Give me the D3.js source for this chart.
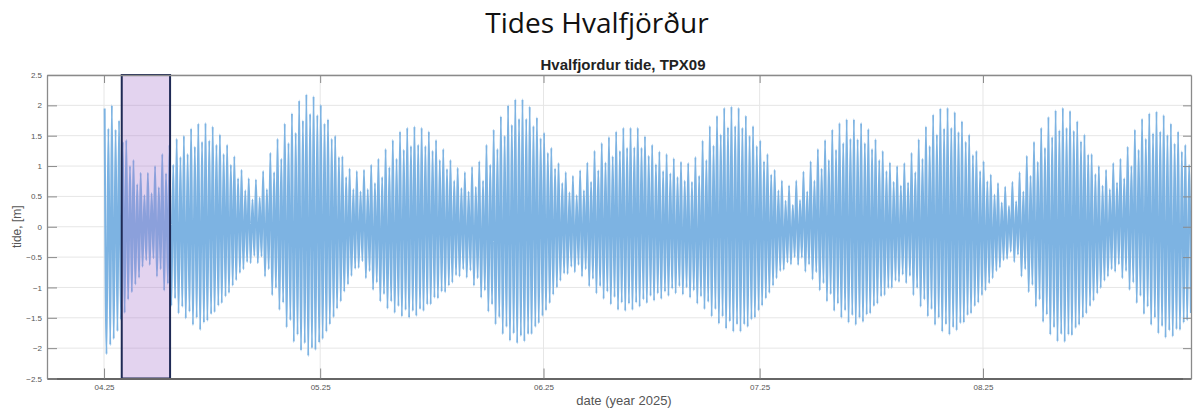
<!DOCTYPE html>
<html>
<head>
<meta charset="utf-8">
<script src="https://cdn.jsdelivr.net/npm/d3@7"></script>
<style>
  html, body { margin: 0; padding: 0; background: #fff; }
  svg { display: block; }
</style>
</head>
<body>
<svg id="chart" width="1194" height="410"></svg>
<script>
// ---------- DATA ----------
const pageTitle = "Tides Hvalfjörður";
const chartTitle = "Hvalfjordur tide, TPX09";
const xLabel = "date (year 2025)";
const yLabel = "tide, [m]";

const seriesStart = "2025-04-25T02:00:00";   // first day of the record
const axisStart = "2025-04-17T02:00:00";
const axisEnd = "2025-09-22T21:00:00";
const xTickDates = ["2025-04-25", "2025-05-25", "2025-06-25", "2025-07-25", "2025-08-25"];
const yTicks = [2.5, 2, 1.5, 1, 0.5, 0, -0.5, -1, -1.5, -2, -2.5];
const highlightRange = ["2025-04-27T11:00:00", "2025-05-04T04:00:00"];

// daily higher high water [m]
const highA = [1.95,2.00,1.75,1.43,1.10,0.89,0.89,1.00,1.20,1.35,
 1.45,1.50,1.62,1.70,1.71,1.65,1.52,1.35,1.16,0.94,
 0.80,0.78,0.92,1.22,1.45,1.70,1.87,2.08,2.18,2.15,
 2.01,1.77,1.50,1.16,0.96,0.92,0.94,1.02,1.12,1.28,
 1.43,1.57,1.63,1.65,1.63,1.57,1.43,1.28,1.10,0.97,
 0.90,0.99,1.08,1.35,1.60,1.82,2.00,2.10,2.10,1.98,
 1.80,1.55,1.30,1.05,0.90,0.84,0.93,1.06,1.25,1.38,
 1.48,1.57,1.63,1.63,1.63,1.49,1.35,1.24,1.20,1.13,
 1.07,1.05,1.15,1.42,1.66,1.83,1.96,1.98,1.96,1.83,
 1.66,1.42,1.20,0.94,0.76,0.68,0.76,0.91,1.08,1.28,
 1.43,1.60,1.71,1.77,1.77,1.71,1.61,1.44,1.25,1.06,
 1.00,1.05,1.22,1.44,1.65,1.85,1.95,1.96,1.89,1.74,
 1.52,1.25,1.08,0.86,0.72,0.66,0.74,0.90,1.17,1.40,
 1.63,1.81,1.92,1.96,1.91,1.74,1.52,1.20,1.00,0.94,
 1.05,1.12,1.32,1.60,1.78,1.87,1.90,1.84,1.70,1.57,
 1.35];

// daily lower high water [m]
const highB = [1.62,1.60,1.40,1.00,0.70,0.52,0.55,0.65,0.88,1.02,
 1.15,1.20,1.32,1.40,1.42,1.35,1.20,1.02,0.80,0.60,
 0.45,0.48,0.62,0.90,1.12,1.38,1.55,1.75,1.86,1.84,
 1.70,1.45,1.15,0.82,0.62,0.58,0.62,0.72,0.82,0.98,
 1.12,1.27,1.33,1.35,1.33,1.25,1.10,0.95,0.76,0.64,
 0.58,0.66,0.76,1.02,1.28,1.50,1.68,1.78,1.78,1.66,
 1.46,1.22,0.96,0.72,0.57,0.52,0.60,0.74,0.93,1.06,
 1.16,1.25,1.30,1.31,1.30,1.17,1.03,0.92,0.88,0.82,
 0.76,0.74,0.84,1.10,1.34,1.52,1.64,1.66,1.63,1.50,
 1.33,1.08,0.86,0.60,0.43,0.36,0.44,0.58,0.76,0.96,
 1.10,1.27,1.38,1.45,1.44,1.38,1.28,1.10,0.92,0.74,
 0.68,0.73,0.90,1.12,1.33,1.52,1.62,1.63,1.56,1.40,
 1.18,0.92,0.75,0.53,0.40,0.34,0.42,0.58,0.84,1.07,
 1.30,1.48,1.59,1.63,1.58,1.41,1.19,0.87,0.68,0.62,
 0.73,0.80,1.00,1.27,1.45,1.54,1.57,1.51,1.37,1.24,
 1.02];

// daily lower low water [m]
const lowA = [-2.10,-1.85,-1.53,-1.20,-0.95,-0.66,-0.63,-0.82,-1.05,-1.30,
 -1.43,-1.51,-1.62,-1.70,-1.55,-1.41,-1.26,-1.09,-0.88,-0.70,
 -0.60,-0.60,-0.82,-1.13,-1.37,-1.66,-1.90,-2.04,-2.13,-2.03,
 -1.85,-1.61,-1.35,-1.07,-0.81,-0.68,-0.85,-1.04,-1.23,-1.35,
 -1.42,-1.48,-1.50,-1.47,-1.39,-1.28,-1.18,-1.08,-0.92,-0.82,
 -0.84,-0.97,-1.17,-1.40,-1.61,-1.77,-1.88,-1.92,-1.89,-1.77,
 -1.59,-1.38,-1.12,-0.89,-0.78,-0.75,-0.82,-0.98,-1.10,-1.19,
 -1.28,-1.37,-1.39,-1.37,-1.32,-1.26,-1.22,-1.19,-1.14,-1.10,
 -1.12,-1.17,-1.27,-1.36,-1.48,-1.60,-1.68,-1.73,-1.73,-1.65,
 -1.50,-1.30,-1.09,-0.85,-0.71,-0.62,-0.63,-0.74,-0.87,-1.05,
 -1.23,-1.39,-1.50,-1.58,-1.62,-1.57,-1.43,-1.27,-1.13,-1.01,
 -0.91,-0.93,-1.13,-1.32,-1.48,-1.62,-1.73,-1.78,-1.71,-1.58,
 -1.43,-1.25,-1.05,-0.85,-0.67,-0.53,-0.58,-0.82,-1.08,-1.32,
 -1.57,-1.78,-1.89,-1.90,-1.79,-1.62,-1.43,-1.22,-1.01,-0.82,
 -0.74,-0.85,-1.04,-1.26,-1.44,-1.62,-1.76,-1.83,-1.81,-1.70,
 -1.54];

// daily higher low water [m]
const lowB = [-1.95,-1.72,-1.42,-1.08,-0.84,-0.55,-0.52,-0.70,-0.94,-1.18,
 -1.32,-1.40,-1.50,-1.58,-1.44,-1.30,-1.15,-0.97,-0.76,-0.58,
 -0.48,-0.49,-0.70,-1.01,-1.25,-1.54,-1.78,-1.92,-2.00,-1.91,
 -1.73,-1.49,-1.23,-0.95,-0.69,-0.57,-0.73,-0.92,-1.11,-1.23,
 -1.31,-1.37,-1.39,-1.36,-1.28,-1.17,-1.07,-0.97,-0.80,-0.70,
 -0.72,-0.85,-1.05,-1.28,-1.49,-1.65,-1.76,-1.80,-1.77,-1.65,
 -1.47,-1.26,-1.00,-0.77,-0.66,-0.63,-0.70,-0.86,-0.98,-1.07,
 -1.16,-1.25,-1.27,-1.25,-1.20,-1.14,-1.10,-1.07,-1.02,-0.98,
 -1.00,-1.05,-1.15,-1.24,-1.36,-1.48,-1.56,-1.61,-1.61,-1.53,
 -1.38,-1.18,-0.97,-0.73,-0.59,-0.50,-0.51,-0.62,-0.75,-0.93,
 -1.11,-1.27,-1.38,-1.46,-1.50,-1.45,-1.31,-1.15,-1.01,-0.89,
 -0.79,-0.81,-1.01,-1.20,-1.36,-1.50,-1.61,-1.66,-1.59,-1.46,
 -1.31,-1.13,-0.93,-0.73,-0.55,-0.41,-0.46,-0.70,-0.96,-1.20,
 -1.45,-1.66,-1.77,-1.78,-1.67,-1.50,-1.31,-1.10,-0.89,-0.70,
 -0.62,-0.73,-0.92,-1.14,-1.32,-1.50,-1.64,-1.71,-1.69,-1.58,
 -1.42];

// ---------- BUILD ----------
const W = 1194, H = 410;
const margin = { left: 47, right: 3, top: 75, bottom: 31.5 };
const svg = d3.select("#chart");

const x = d3.scaleTime()
  .domain([new Date(axisStart), new Date(axisEnd)])
  .range([margin.left, W - margin.right]);
const y = d3.scaleLinear()
  .domain([-2.5, 2.5])
  .range([H - margin.bottom, margin.top]);

const DAY = 86400000;
const t0 = new Date(seriesStart).getTime();
const phase = [0, 0.26, 0.52, 0.78];
const pts = [];
for (let i = 0; i < highA.length; i++) {
  const vals = [highA[i], lowA[i], highB[i], lowB[i]];
  vals.forEach((v, k) => pts.push({ t: new Date(t0 + (i + phase[k]) * DAY), v }));
}

const x0 = margin.left, x1 = W - margin.right, yTop = margin.top, yBot = H - margin.bottom;

// grid
const grid = svg.append("g");
grid.selectAll("line.h").data(yTicks).join("line")
  .attr("x1", x0).attr("x2", x1)
  .attr("y1", d => y(d)).attr("y2", d => y(d))
  .attr("stroke", "#e6e6e6").attr("stroke-width", 1);
grid.selectAll("line.v").data(xTickDates).join("line")
  .attr("x1", d => x(new Date(d))).attr("x2", d => x(new Date(d)))
  .attr("y1", yTop).attr("y2", yBot)
  .attr("stroke", "#e6e6e6").attr("stroke-width", 1);

// tide line
const line = d3.line().x(d => x(d.t)).y(d => y(d.v)).curve(d3.curveMonotoneX);
svg.append("path")
  .datum(pts)
  .attr("d", line)
  .attr("fill", "none")
  .attr("stroke", "#7db3e2")
  .attr("stroke-width", 2)
  .attr("stroke-linejoin", "round");

// highlight rectangle
svg.append("rect")
  .attr("x", x(new Date(highlightRange[0])))
  .attr("width", x(new Date(highlightRange[1])) - x(new Date(highlightRange[0])))
  .attr("y", y(2.5))
  .attr("height", y(-2.5) - y(2.5))
  .attr("fill", "rgba(170,120,205,0.33)")
  .attr("stroke", "#1f2a55")
  .attr("stroke-width", 2);

// axes
const fmt = d3.timeFormat("%m.%d");
const xAxis = d3.axisBottom(x)
  .tickValues(xTickDates.map(d => new Date(d)))
  .tickFormat(fmt)
  .tickSizeInner(-10).tickSizeOuter(0).tickPadding(6);
const gx = svg.append("g").attr("transform", `translate(0,${yBot})`).call(xAxis);
const xTop = d3.axisTop(x)
  .tickValues(xTickDates.map(d => new Date(d)))
  .tickFormat("")
  .tickSizeInner(-8).tickSizeOuter(0);
const gxt = svg.append("g").attr("transform", `translate(0,${yTop})`).call(xTop);

const yAxis = d3.axisLeft(y)
  .tickValues(yTicks)
  .tickFormat(d3.format("~g"))
  .tickSizeInner(-10).tickSizeOuter(0).tickPadding(5);
const gy = svg.append("g").attr("transform", `translate(${x0},0)`).call(yAxis);
const yRight = d3.axisRight(y)
  .tickValues(yTicks).tickFormat("")
  .tickSizeInner(-8).tickSizeOuter(0);
const gyr = svg.append("g").attr("transform", `translate(${x1},0)`).call(yRight);

[gx, gxt, gy, gyr].forEach(g => {
  g.select(".domain").attr("stroke", "#8a8a8a").attr("stroke-width", 1.3);
  g.selectAll(".tick line").attr("stroke", "#8a8a8a").attr("stroke-width", 1);
  g.selectAll(".tick text")
    .attr("fill", "#555")
    .style("font-family", "'Liberation Sans', Arial, sans-serif")
    .style("font-size", "8px");
});
gx.select(".domain").attr("stroke", "#666").attr("stroke-width", 2);

// titles & labels
svg.append("text")
  .attr("x", 597).attr("y", 33)
  .attr("text-anchor", "middle")
  .style("font-family", "'Open Sans', 'Noto Sans', sans-serif")
  .style("font-size", "28px")
  .attr("fill", "#111")
  .text(pageTitle);

svg.append("text")
  .attr("x", (x0 + x1) / 2 + 4).attr("y", 70)
  .attr("text-anchor", "middle")
  .style("font-family", "'Liberation Sans', Arial, sans-serif")
  .style("font-size", "15px")
  .style("font-weight", "bold")
  .attr("fill", "#222")
  .text(chartTitle);

svg.append("text")
  .attr("x", (x0 + x1) / 2 + 5).attr("y", 405)
  .attr("text-anchor", "middle")
  .style("font-family", "'Liberation Sans', Arial, sans-serif")
  .style("font-size", "13px")
  .attr("fill", "#555")
  .text(xLabel);

svg.append("text")
  .attr("transform", `translate(21,${y(0)}) rotate(-90)`)
  .attr("text-anchor", "middle")
  .style("font-family", "'Liberation Sans', Arial, sans-serif")
  .style("font-size", "12px")
  .attr("fill", "#555")
  .text(yLabel);
</script>
</body>
</html>
